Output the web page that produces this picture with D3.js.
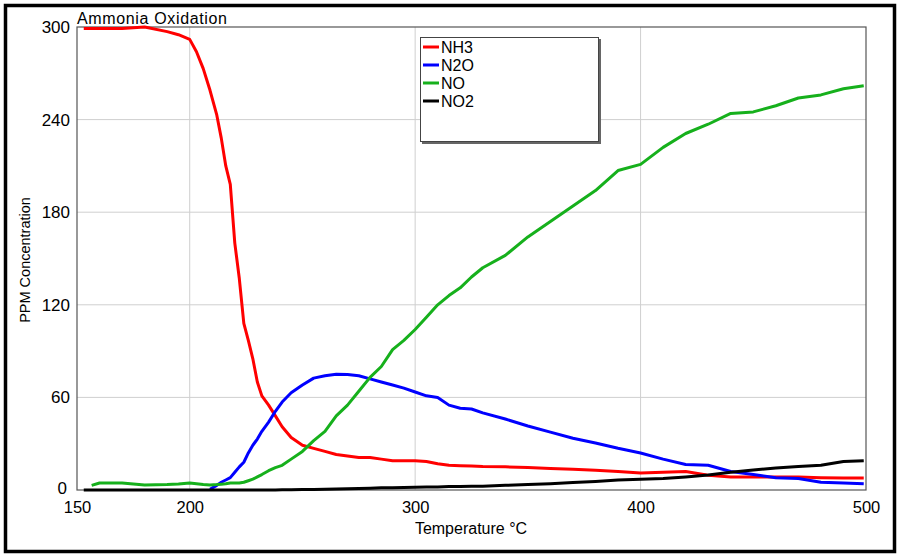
<!DOCTYPE html>
<html>
<head>
<meta charset="utf-8">
<script src="https://cdn.jsdelivr.net/npm/d3@7"></script>
<style>
  html, body { margin: 0; padding: 0; background: #fff; }
  svg { display: block; font-family: "Liberation Sans", Arial, sans-serif; }
</style>
</head>
<body>
<svg id="chart" width="900" height="560"></svg>
<script>
// ---- data ----
const temperature = [153,160,170,180,190,195,200,203,206,209,212,214,216,218,220,222,224,226,228,230,232,235,238,241,245,250,255,260,265,270,275,280,285,290,295,300,305,310,315,320,325,330,340,350,360,370,380,390,400,410,420,430,440,450,460,470,480,490,499];
const nh3 = [299,299,299,300,297,295,292,284,273,259,243,228,210,198,160,137,108,97,85,70,61,55,48,41,34,29,27,25,23,22,21,21,20,19,19,19,18.5,17,16,15.7,15.5,15.2,15,14.5,14,13.5,12.8,12,11,11.5,12,9.5,8.5,8.4,8.4,8.4,8,7.8,7.8];
const n2o = [null,null,null,null,null,null,null,null,null,0.5,3,5,6.5,8,11.5,15,18,24,29,33,38,44,51,57,63,68,72.5,74,75,74.8,74,72,70,68,66,63.5,61,60,55,53,52.5,50,46,41.5,37.5,33.5,30.5,27,24,20,16.5,16,12,10,8,7.5,5,4.5,4];
const no = [null,4.5,4.5,3.2,3.5,3.9,4.5,4,3.5,3.2,3.5,3.8,4,4.5,4.5,4.5,5,6,7,8.5,10,12.5,14.5,16,20,25,32,38,48,55,64,73,80,91,97,104,112,120,126,131,138,144,152,164,174,184,194,207,211,222,231,237,244,245,249,254,256,260,262];
const no2 = [0,0,0,0,0,0,0,0,0,0,0,0,0,0,0,0,0,0,0,0,0,0,0,0.1,0.2,0.3,0.4,0.5,0.6,0.8,1,1.2,1.4,1.5,1.6,1.8,1.9,2,2.2,2.3,2.4,2.5,3,3.5,4,4.8,5.5,6.5,7,7.5,8.5,9.7,11.5,13,14.2,15.3,16,18.5,19];
const seriesNames = ["NH3","N2O","NO","NO2"];
const seriesColors = ["#ff0000","#0000ff","#16b01c","#000000"];
const xTicks = [150,200,300,400,500];
const xGrid = [200,300,400];
const yTicks = [0,60,120,180,240,300];
const yGrid = [60,120,180,240];
const title = "Ammonia Oxidation";
const xTitle = "Temperature °C";
const yTitle = "PPM Concentration";

const seriesValues = [nh3, n2o, no, no2];
const firstNO = 156.5; // NO trace starts slightly later

const svg = d3.select("#chart");
const pL = 77, pR = 866, pT = 27, pB = 490;

const x = d3.scaleLinear().domain([150,500]).range([pL,pR]);
const y = d3.scaleLinear().domain([0,300]).range([pB,pT]);

// outer frame
svg.append("rect").attr("x",5.5).attr("y",5.5).attr("width",889).attr("height",546)
  .attr("fill","#fff").attr("stroke","#000").attr("stroke-width",3.5);

// grid
svg.append("g").selectAll("line").data(xGrid).join("line")
  .attr("x1",d=>x(d)).attr("x2",d=>x(d)).attr("y1",pT).attr("y2",pB)
  .attr("stroke","#cfcfcf").attr("stroke-width",1);
svg.append("g").selectAll("line").data(yGrid).join("line")
  .attr("x1",pL).attr("x2",pR).attr("y1",d=>y(d)).attr("y2",d=>y(d))
  .attr("stroke","#cfcfcf").attr("stroke-width",1);

// plot frame
svg.append("rect").attr("x",pL).attr("y",pT).attr("width",pR-pL).attr("height",pB-pT)
  .attr("fill","none").attr("stroke","#555").attr("stroke-width",1.2);

// axes
const xAxis = svg.append("g").attr("transform",`translate(0,${pB})`)
  .call(d3.axisBottom(x).tickValues(xTicks).tickSize(0).tickPadding(11).tickFormat(d3.format("d")));
xAxis.select(".domain").remove();
xAxis.selectAll("text").attr("font-size",16.5).attr("fill","#000").attr("font-family","Liberation Sans, Arial, sans-serif");

const yAxis = svg.append("g").attr("transform",`translate(${pL},0)`)
  .call(d3.axisLeft(y).tickValues(yTicks).tickSize(0).tickPadding(7).tickFormat(d3.format("d")));
yAxis.select(".domain").remove();
yAxis.selectAll("text").attr("font-size",17).attr("fill","#000").attr("font-family","Liberation Sans, Arial, sans-serif");
// the "0" label sits a little higher and left so it does not collide with "150"
yAxis.selectAll(".tick").filter(d => d === 0).select("text").attr("dy","0.2em").attr("x",-10);

// titles
svg.append("text").attr("x",77).attr("y",24).attr("font-size",16).attr("textLength",150).text(title);
svg.append("text").attr("x",471).attr("y",534).attr("text-anchor","middle").attr("font-size",16).text(xTitle);
svg.append("text").attr("transform","translate(30,260) rotate(-90)").attr("text-anchor","middle")
  .attr("font-size",14.5).text(yTitle);

// lines
const line = d3.line()
  .defined(d => d[1] !== null)
  .x(d => x(d[0])).y(d => y(d[1]));
svg.append("clipPath").attr("id","clip").append("rect")
  .attr("x",pL).attr("y",pT-3).attr("width",pR-pL+2).attr("height",pB-pT+6);
const plotG = svg.append("g").attr("clip-path","url(#clip)");
seriesValues.forEach((vals,i) => {
  let pts = temperature.map((t,j) => [t, vals[j]]);
  if (seriesNames[i] === "NO") pts[0] = [firstNO, 3];
  plotG.append("path").datum(pts)
    .attr("fill","none").attr("stroke",seriesColors[i]).attr("stroke-width",3)
    .attr("stroke-linejoin","round").attr("d",line);
});

// legend
const lg = svg.append("g");
lg.append("rect").attr("x",422).attr("y",39).attr("width",179).attr("height",105).attr("fill","#666");
lg.append("rect").attr("x",420.5).attr("y",37.5).attr("width",178).attr("height",104)
  .attr("fill","#fff").attr("stroke","#444").attr("stroke-width",1);
seriesNames.forEach((n,i) => {
  const yy = 47 + i*18;
  lg.append("line").attr("x1",423).attr("x2",439).attr("y1",yy).attr("y2",yy)
    .attr("stroke",seriesColors[i]).attr("stroke-width",3);
  lg.append("text").attr("x",441).attr("y",yy).attr("dy","0.36em").attr("font-size",16).text(n);
});
</script>
</body>
</html>
